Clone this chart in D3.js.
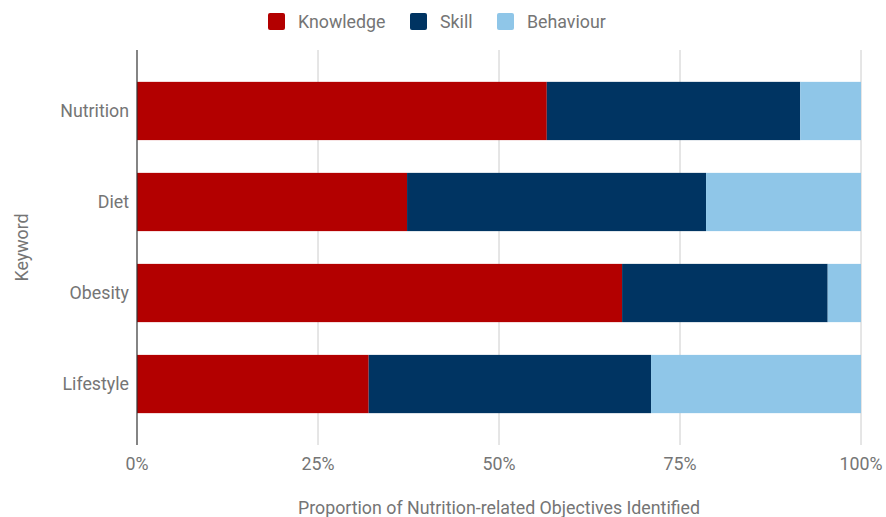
<!DOCTYPE html>
<html>
<head>
<meta charset="utf-8">
<script src="https://cdn.jsdelivr.net/npm/d3@7"></script>
<style>
  body { margin: 0; background: #fff; }
  text { font-family: Roboto, "Noto Sans", sans-serif; fill: #757575; }
</style>
</head>
<body>
<div id="chart"></div>
<script>
// Keywords, top to bottom
var keywords = ["Nutrition", "Diet", "Obesity", "Lifestyle"]

// Share of objectives per type (reads off the picture)
var knowledge = [0.566, 0.373, 0.670, 0.320]
var skill     = [0.350, 0.413, 0.284, 0.390]
var behaviour = [0.084, 0.214, 0.046, 0.290]

var seriesNames = ["Knowledge", "Skill", "Behaviour"]
var colors = ["#b30000", "#003462", "#8fc6e8"]
var xTicks = [0, 0.25, 0.5, 0.75, 1]

var width = 886
var height = 517
var margin = {left: 137, right: 25, top: 50, bottom: 72}
var fontSize = "17.8px"

var svg = d3.select("#chart")
            .append("svg")
            .attr("width", width)
            .attr("height", height)

var rows = keywords.map((k, i) => ({
    keyword: k, Knowledge: knowledge[i], Skill: skill[i], Behaviour: behaviour[i]
}))
var stacked = d3.stack().keys(seriesNames)(rows)

var xScale = d3.scaleLinear()
               .domain([0, 1])
               .range([margin.left, width - margin.right])

var yScale = d3.scaleBand()
               .domain(keywords)
               .range([margin.top, height - margin.bottom])
               .paddingInner(0.36)
               .paddingOuter(0.35)

// gridlines
svg.append("g")
   .selectAll("line")
   .data(xTicks.slice(1))
   .enter()
   .append("line")
   .attr("x1", d => xScale(d))
   .attr("x2", d => xScale(d))
   .attr("y1", margin.top)
   .attr("y2", height - margin.bottom)
   .attr("stroke", "#cccccc")
   .attr("stroke-width", 1)

// bars
svg.append("g")
   .selectAll("g")
   .data(stacked)
   .enter()
   .append("g")
   .attr("fill", (d, i) => colors[i])
   .selectAll("rect")
   .data(d => d)
   .enter()
   .append("rect")
   .attr("x", d => xScale(d[0]))
   .attr("y", d => yScale(d.data.keyword))
   .attr("width", d => xScale(d[1]) - xScale(d[0]))
   .attr("height", yScale.bandwidth())

// zero axis line
svg.append("line")
   .attr("x1", xScale(0))
   .attr("x2", xScale(0))
   .attr("y1", margin.top)
   .attr("y2", height - margin.bottom)
   .attr("stroke", "#333333")
   .attr("stroke-width", 1.2)

// x tick labels
svg.append("g")
   .selectAll("text")
   .data(xTicks)
   .enter()
   .append("text")
   .attr("x", d => xScale(d))
   .attr("y", 470)
   .attr("text-anchor", "middle")
   .style("font-size", fontSize)
   .text(d3.format(".0%"))

// y category labels
svg.append("g")
   .selectAll("text")
   .data(keywords)
   .enter()
   .append("text")
   .attr("x", margin.left - 8)
   .attr("y", d => yScale(d) + yScale.bandwidth() / 2)
   .attr("dy", "0.35em")
   .attr("text-anchor", "end")
   .style("font-size", fontSize)
   .text(d => d)

// axis titles
svg.append("text")
   .attr("x", (margin.left + width - margin.right) / 2)
   .attr("y", 514)
   .attr("text-anchor", "middle")
   .style("font-size", fontSize)
   .text("Proportion of Nutrition-related Objectives Identified")

svg.append("text")
   .attr("transform", "translate(28," + ((margin.top + height - margin.bottom) / 2) + ") rotate(-90)")
   .attr("text-anchor", "middle")
   .style("font-size", fontSize)
   .text("Keyword")

// legend
var legendX = [268, 410, 497]
var legend = svg.append("g")
legend.selectAll("rect")
      .data(seriesNames)
      .enter()
      .append("rect")
      .attr("x", (d, i) => legendX[i])
      .attr("y", 13)
      .attr("width", 17)
      .attr("height", 17)
      .attr("rx", 2)
      .attr("fill", (d, i) => colors[i])
legend.selectAll("text")
      .data(seriesNames)
      .enter()
      .append("text")
      .attr("x", (d, i) => legendX[i] + 30)
      .attr("y", 22)
      .attr("dy", "0.35em")
      .style("font-size", fontSize)
      .text(d => d)
</script>
</body>
</html>
